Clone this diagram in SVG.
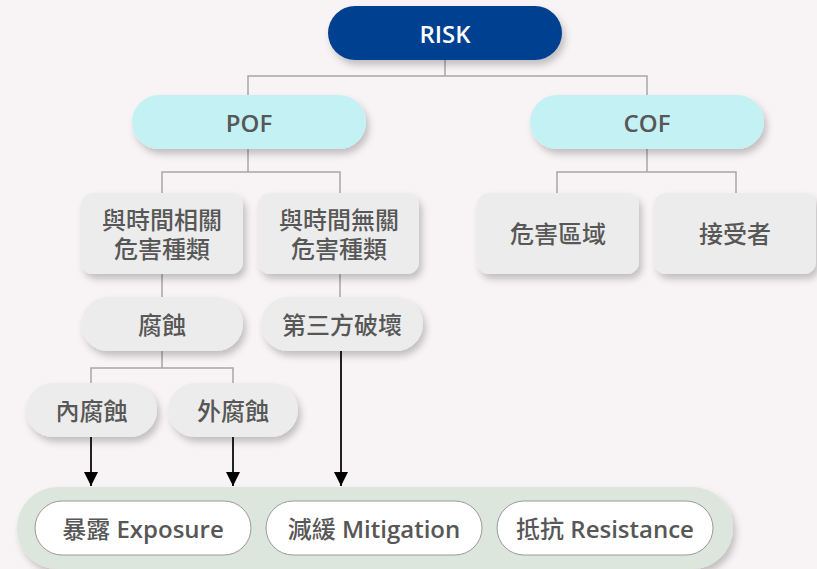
<svg xmlns="http://www.w3.org/2000/svg" width="817" height="569" viewBox="0 0 817 569">
<defs>
<style>
.t{font-family:"Open Sans","Noto Sans","Noto Sans CJK TC",sans-serif;font-size:24px;font-weight:600;fill:#575757;text-anchor:middle;dominant-baseline:central}
.c{font-weight:500}
.w{fill:#ffffff}
.grey{fill:#ececec}
.cyan{fill:#c4f2f4}
.pill{fill:#ffffff;stroke:#9a9a9a;stroke-width:1}
.ln{fill:none;stroke:#a6a6a6;stroke-width:1.5}
.ar{fill:none;stroke:#222;stroke-width:2}
</style>
<filter id="sh" x="-20%" y="-30%" width="150%" height="180%">
<feDropShadow dx="3" dy="5" stdDeviation="3.5" flood-color="#000" flood-opacity="0.22"/>
</filter>
<marker id="ah" viewBox="0 0 14 14" refX="14" refY="7" markerWidth="14" markerHeight="14" markerUnits="userSpaceOnUse" orient="auto">
<path d="M0,0 L14,7 L0,14 Z" fill="#000"/>
</marker>
</defs>
<rect width="817" height="569" fill="#f8f4f5"/>
<g id="connectors">
<path class="ln" d="M445,60 V76 M248,95 V76 H647 V95"/>
<path class="ln" d="M248,149 V172 M162,193 V172 H340 V193"/>
<path class="ln" d="M647,149 V172 M557,193 V172 H736 V193"/>
<path class="ln" d="M162,274 V297 M340,274 V297"/>
<path class="ln" d="M162,351 V368 M91,383 V368 H233 V383"/>
<path class="ar" d="M91,437 V486" marker-end="url(#ah)"/>
<path class="ar" d="M233,437 V486" marker-end="url(#ah)"/>
<path class="ar" d="M341,351 V486" marker-end="url(#ah)"/>
</g>
<g id="risk"><rect x="328" y="6" width="234" height="54" rx="27" fill="#004190" filter="url(#sh)"/><text class="t w" x="445" y="33">RISK</text></g>
<g id="pof"><rect class="cyan" x="132" y="95" width="234" height="54" rx="27" filter="url(#sh)"/><text class="t" x="249" y="122">POF</text></g>
<g id="cof"><rect class="cyan" x="530" y="95" width="234" height="54" rx="27" filter="url(#sh)"/><text class="t" x="647" y="122">COF</text></g>
<g id="time-dep"><rect class="grey" x="81" y="193" width="162" height="81" rx="12" filter="url(#sh)"/><text class="t c" x="162" y="219">與時間相關<tspan x="162" dy="29">危害種類</tspan></text></g>
<g id="time-indep"><rect class="grey" x="258" y="193" width="161" height="81" rx="12" filter="url(#sh)"/><text class="t c" x="339" y="219">與時間無關<tspan x="339" dy="29">危害種類</tspan></text></g>
<g id="hazard-area"><rect class="grey" x="477" y="193" width="162" height="81" rx="12" filter="url(#sh)"/><text class="t c" x="558" y="233">危害區域</text></g>
<g id="receptor"><rect class="grey" x="654" y="193" width="162" height="81" rx="12" filter="url(#sh)"/><text class="t c" x="735" y="233">接受者</text></g>
<g id="corrosion"><rect class="grey" x="81" y="297" width="162" height="54" rx="27" filter="url(#sh)"/><text class="t c" x="162" y="324">腐蝕</text></g>
<g id="third-party"><rect class="grey" x="261" y="297" width="162" height="54" rx="27" filter="url(#sh)"/><text class="t c" x="342" y="324">第三方破壞</text></g>
<g id="internal"><rect class="grey" x="26" y="383" width="131" height="54" rx="27" filter="url(#sh)"/><text class="t c" x="91.5" y="410">內腐蝕</text></g>
<g id="external"><rect class="grey" x="168" y="383" width="130" height="54" rx="27" filter="url(#sh)"/><text class="t c" x="233" y="410">外腐蝕</text></g>
<g id="factors">
<rect x="17" y="487" width="716" height="82" rx="41" fill="#dce6dc" filter="url(#sh)"/>
</g>
<g id="exposure"><rect class="pill" x="35" y="501" width="216" height="54" rx="27"/><text class="t" x="143" y="528"><tspan class="c">暴露</tspan> Exposure</text></g>
<g id="mitigation"><rect class="pill" x="266" y="501" width="216" height="54" rx="27"/><text class="t" x="374" y="528"><tspan class="c">減緩</tspan> Mitigation</text></g>
<g id="resistance"><rect class="pill" x="497" y="501" width="216" height="54" rx="27"/><text class="t" x="605" y="528"><tspan class="c">抵抗</tspan> Resistance</text></g>
</svg>
